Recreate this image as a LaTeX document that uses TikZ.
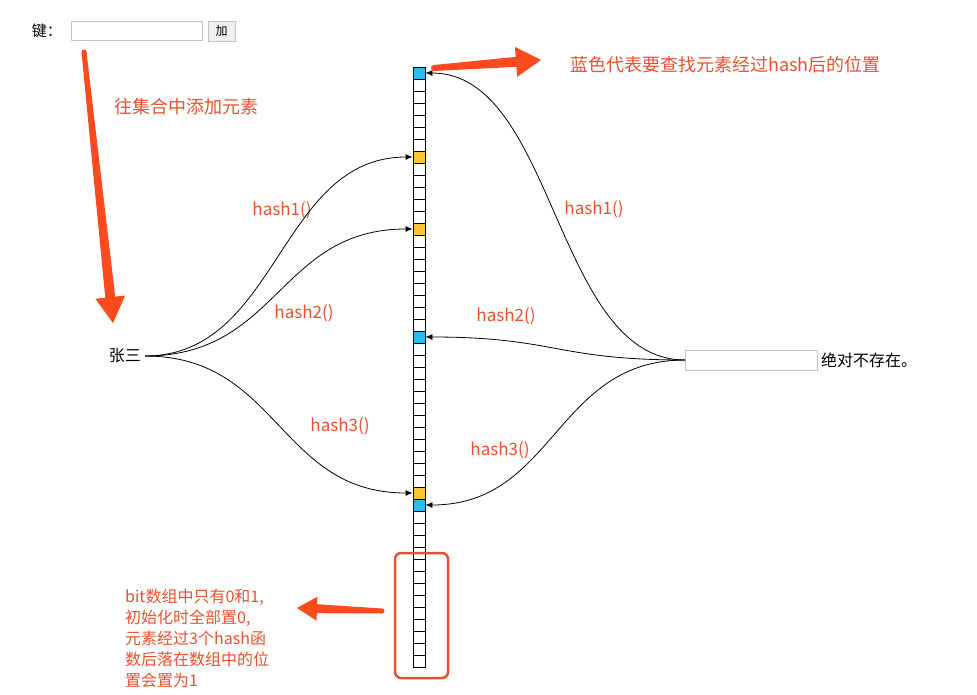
\documentclass[tikz,border=0pt]{standalone}
\usepackage{fontspec}
\setmainfont{Noto Sans CJK SC}
\usetikzlibrary{arrows.meta,positioning,calc}
\definecolor{notered}{HTML}{E8502F}
\definecolor{bigred}{HTML}{FA4A1E}
\definecolor{cellblue}{HTML}{2CBCEE}
\definecolor{cellyellow}{HTML}{F9C734}
\definecolor{boxgray}{HTML}{C4C4C4}
\newcommand{\fatarrow}[6]{%
\coordinate (#1base) at ($(#2)!#3!(#1)$);
\fill[bigred] (#1) circle (#6);
\fill[bigred] ($(#1)!#6!90:(#2)$) -- ($(#1base)!#5!90:(#2)$) -- ($(#1base)!#4!90:(#2)$) -- (#2) -- ($(#1base)!#4!-90:(#2)$) -- ($(#1base)!#5!-90:(#2)$) -- ($(#1)!#6!-90:(#2)$) -- cycle;}

\begin{document}
\begin{tikzpicture}[x=1pt,y=-1pt,
txt/.style={inner sep=0pt,font=\fontsize{16}{19}\selectfont},
note/.style={inner sep=0pt,text=notered,font=\fontsize{18}{22}\selectfont},
hashlbl/.style={inner sep=0pt,text=notered,font=\fontsize{17}{20}\selectfont},
field/.style={draw=boxgray,line width=0.8pt,inner sep=0pt},
button/.style={draw=boxgray,fill=gray!12,line width=0.8pt,inner sep=0pt,minimum width=27pt,minimum height=20pt,font=\fontsize{12}{14}\selectfont},
cell/.style={draw,line width=0.8pt,minimum size=12pt,inner sep=0pt},
hl0/.style={fill=cellblue},hl7/.style={fill=cellyellow},hl13/.style={fill=cellyellow},
hl22/.style={fill=cellblue},hl35/.style={fill=cellyellow},hl36/.style={fill=cellblue},
link/.style={-{Latex[length=7pt,width=6pt]},line width=0.8pt},
markbox/.style={draw=notered,line width=2.5pt,rounded corners=6pt,minimum width=53pt,minimum height=125pt}]
\useasboundingbox (0,0) rectangle (977,694);
\node[field,minimum width=131pt,minimum height=19pt,anchor=north west] (keyfield) at (71,21) {};
\node[txt,left=9pt of keyfield,font=\fontsize{15}{18}\selectfont] (keylbl) {键：};
\node[button,right=5pt of keyfield] (addbtn) {加};
\node[note,anchor=west] (addnote) at (114,107) {往集合中添加元素};
\node[note,anchor=west] (bluenote) at (570,65) {蓝色代表要查找元素经过hash后的位置};
\foreach \i in {0,...,49} \node[cell,hl\i/.try] (c\i) at (419,{73+12*\i}) {};
\node[markbox] (mark) at (421.5,615.5) {};
\node[txt,anchor=east] (zhang) at (141,356) {张三};
\node[field,minimum width=132pt,minimum height=20pt,anchor=west] (query) at (685,360) {};
\node[txt,right=3pt of query] (absent) {绝对不存在。};
\node[hashlbl] (lh1) at (282,210) {hash1()};
\node[hashlbl] (lh2) at (304,313) {hash2()};
\node[hashlbl] (lh3) at (340,426) {hash3()};
\node[hashlbl] (rh1) at (594,209) {hash1()};
\node[hashlbl] (rh2) at (506,316) {hash2()};
\node[hashlbl] (rh3) at (500,450) {hash3()};
\node[note,anchor=north west,align=left,font=\fontsize{16}{21}\selectfont] (bitnote) at (125,589) {bit数组中只有0和1,\\初始化时全部置0,\\元素经过3个hash函\\数后落在数组中的位\\置会置为1};
\draw[link] ([xshift=4pt]zhang.east) .. controls +(134,0) and +(-134,0) .. (c7.west);
\draw[link] ([xshift=4pt]zhang.east) .. controls +(134,0) and +(-134,0) .. (c13.west);
\draw[link] ([xshift=4pt]zhang.east) .. controls +(134,0) and +(-134,0) .. (c35.west);
\draw[link] (query.west) .. controls +(-130,0) and +(130,0) .. (c0.east);
\draw[link] (query.west) .. controls +(-130,0) and +(130,0) .. (c22.east);
\draw[link] (query.west) .. controls +(-130,0) and +(130,0) .. (c36.east);
\coordinate (addtail) at (84,52); \coordinate (addtip) at (113,323);
\coordinate (bluetail) at (434,68); \coordinate (bluetip) at (541,60);
\coordinate (marktail) at (382,611); \coordinate (marktip) at (297,608);
\fatarrow{addtail}{addtip}{26pt}{15pt}{5pt}{2.5pt}
\fatarrow{bluetail}{bluetip}{25pt}{15pt}{5pt}{3pt}
\fatarrow{marktail}{marktip}{20pt}{12pt}{4.5pt}{2.5pt}
\end{tikzpicture}
\end{document}
